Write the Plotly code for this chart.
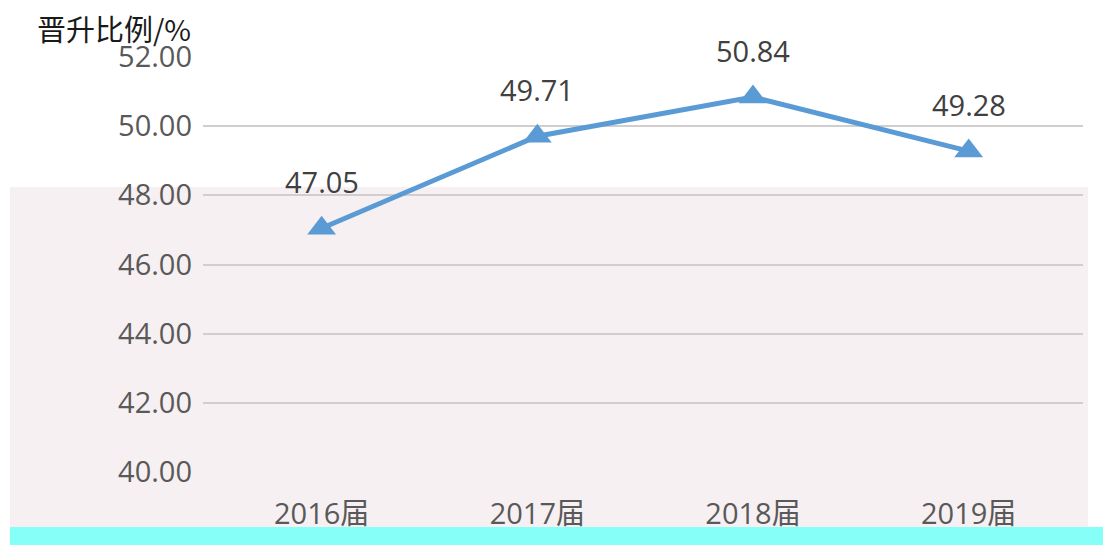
import plotly.graph_objects as go

categories = ["2016届", "2017届", "2018届", "2019届"]
values = [47.05, 49.71, 50.84, 49.28]
y_ticks = [40, 42, 44, 46, 48, 50, 52]
y_title = "晋升比例/%"

# page body margin offsets the figure by 8px; layout numbers below are in page pixels
OFF = 8
W, H = 1111, 545
L, R, T, B = 203 - OFF, 1111 - (1083 - OFF), 57 - OFF, 545 - (472 - OFF)
pw, ph = W - L - R, H - T - B

def px(x):
    return (x - OFF - L) / pw

def py(y):
    return (H - B - (y - OFF)) / ph

fig = go.Figure()
fig.add_trace(go.Scatter(
    x=categories, y=values,
    mode="lines+markers",
    line=dict(color="#5B9BD5", width=5),
    marker=dict(symbol="triangle-up", size=25, color="#5B9BD5"),
    cliponaxis=False,
    hoverinfo="x+y",
))

annotations = [
    dict(x=c, y=v, xref="x", yref="y", text=f"{v:.2f}", showarrow=False,
         yshift=47, xanchor="center", yanchor="middle",
         font=dict(family="Open Sans, Noto Sans, sans-serif", size=29, color="#404040"))
    for c, v in zip(categories, values)
]
annotations.append(
    dict(text=y_title, xref="paper", yref="paper",
         x=px(36), y=py(28), xanchor="left", yanchor="middle",
         showarrow=False, borderpad=0,
         font=dict(family="Noto Sans CJK SC, sans-serif", size=29, color="#1a1a1a"))
)

fig.update_layout(
    width=W, height=H,
    margin=dict(l=L, r=R, t=T, b=B, autoexpand=False),
    paper_bgcolor="white",
    plot_bgcolor="rgba(0,0,0,0)",
    showlegend=False,
    font=dict(family="Open Sans, Noto Sans CJK SC, sans-serif", color="#595959"),
    shapes=[
        dict(type="rect", xref="paper", yref="paper", layer="below",
             x0=px(10), x1=px(1088), y0=py(527), y1=py(187),
             fillcolor="#F6F0F2", line=dict(width=0)),
        dict(type="rect", xref="paper", yref="paper", layer="below",
             x0=px(10), x1=px(1111), y0=py(553), y1=py(527),
             fillcolor="#86FFF8", line=dict(width=0)),
    ],
    annotations=annotations,
)

fig.update_xaxes(
    type="category", range=[-0.55, 3.53], automargin=False,
    showgrid=False, showline=False, zeroline=False,
    ticks="", ticklabelstandoff=22,
    tickfont=dict(family="Open Sans, Noto Sans CJK SC, sans-serif", size=29, color="#595959"),
)
fig.update_yaxes(
    range=[40, 52], automargin=False,
    tickvals=y_ticks,
    ticktext=[f"{v:.2f}" for v in y_ticks],
    showgrid=True, gridcolor="#D0CECE", gridwidth=2,
    zeroline=False, showline=False,
    ticks="", ticklabelstandoff=10,
    tickfont=dict(family="Open Sans, Noto Sans, sans-serif", size=29, color="#595959"),
)

fig.write_html("out.html")
